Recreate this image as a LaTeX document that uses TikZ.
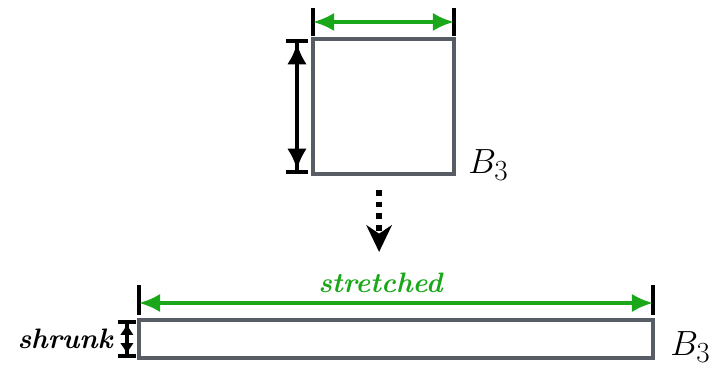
\documentclass[tikz,border=0pt]{standalone}
\usetikzlibrary{arrows.meta, positioning}

\definecolor{dimgreen}{RGB}{26,168,26}
\definecolor{boxgray}{RGB}{88,92,100}

\begin{document}
\begin{tikzpicture}[
  x=0.025cm, y=0.025cm,
  blk/.style={draw=boxgray, line width=2.8pt, inner sep=0pt, outer sep=0pt},
  grn/.style={{Latex[length=15pt,width=13pt]}-{Latex[length=15pt,width=13pt]},
    draw=dimgreen, line width=2.6pt},
  tick/.style={draw=black, line width=3pt},
  side/.style={{Bar[width=15pt,line width=3pt]Latex[length=15pt,width=14pt]}-{Latex[length=15pt,width=14pt]Bar[width=15pt,line width=3pt]},
    line width=3pt},
  small/.style={{Bar[width=13pt,line width=2.6pt]Latex[length=8pt,width=10pt]}-{Latex[length=8pt,width=10pt]Bar[width=13pt,line width=2.6pt]},
    line width=2.4pt},
  flow/.style={-{Stealth[length=19pt,width=18pt,inset=6pt]}, line width=4.2pt,
    dash pattern=on 4.2pt off 4pt},
  lbl/.style={font=\fontsize{28}{32}\selectfont, anchor=west, inner sep=0pt},
  note/.style={font=\fontsize{20}{24}\selectfont\bfseries\itshape, inner sep=0pt}
]
  \useasboundingbox (0,0) rectangle (718,368);

  % the two boxes
  \node[blk, minimum width=3.525cm, minimum height=3.375cm] (sq) at (383.5,261.5) {};
  \node[blk, minimum width=12.85cm, minimum height=0.95cm] (bar) at (396,29) {};

  % top box
  \draw[tick] ([yshift=0.075cm]sq.north west) -- ([yshift=0.775cm]sq.north west);
  \draw[tick] ([yshift=0.075cm]sq.north east) -- ([yshift=0.775cm]sq.north east);
  \draw[grn] ([yshift=0.425cm]sq.north west) -- ([yshift=0.425cm]sq.north east);
  \draw[side] ([xshift=-0.4cm]sq.north west) -- ([xshift=-0.4cm]sq.south west);
  \node[lbl] (btop) at ([xshift=0.35cm, yshift=0.225cm]sq.south east) {$B_3$};

  \draw[flow, shorten <=0.4cm, shorten >=1.7cm]
    ([xshift=-0.11cm]sq.south) -- ([xshift=-0.11cm]sq.south |- bar.north);

  % bottom box
  \draw[tick] ([yshift=0.125cm]bar.north west) -- ([yshift=0.875cm]bar.north west);
  \draw[tick] ([yshift=0.125cm]bar.north east) -- ([yshift=0.875cm]bar.north east);
  \draw[grn] ([yshift=0.425cm]bar.north west) -- ([yshift=0.425cm]bar.north east);
  \node[note, text=dimgreen] (str) at ([xshift=-0.39cm, yshift=0.925cm]bar.north) {stretched};
  \draw[small] ([xshift=-0.3cm]bar.north west) -- ([xshift=-0.3cm]bar.south west);
  \node[note, anchor=east] (shr) at ([xshift=-0.65cm]bar.west) {shrunk};
  \node[lbl] (bbot) at ([xshift=0.425cm, yshift=0.275cm]bar.south east) {$B_3$};
\end{tikzpicture}
\end{document}
